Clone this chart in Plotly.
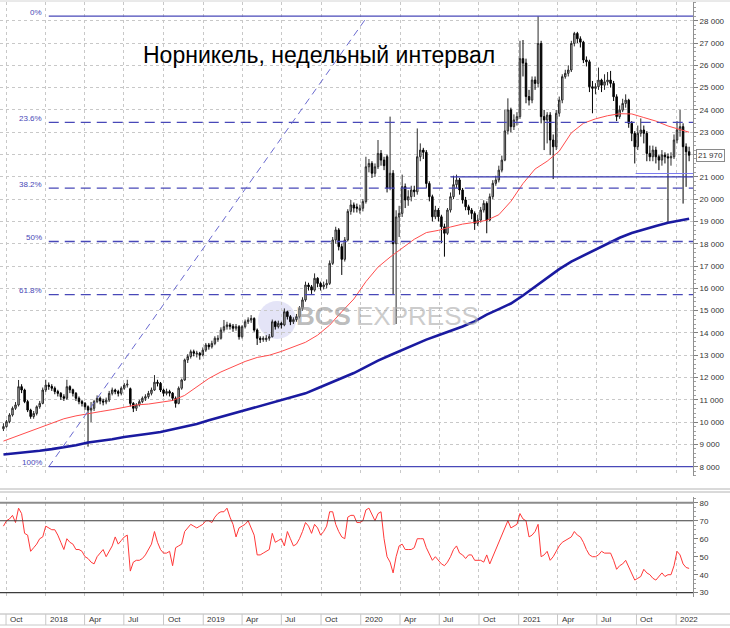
import pandas as pd
import plotly.graph_objects as go

# weekly candles, first week 2017-09-25
open_ = [
    9700, 9800, 10020, 10320, 10620, 10770, 11590, 11440, 10920, 10540,
    10250, 10390, 10690, 10840, 11440, 11660, 11600, 11520, 11370, 11290,
    11140, 11070, 11590, 11450, 11290, 11070, 10920, 10840, 10690, 10540,
    10620, 10920, 11070, 10950, 10900, 10990, 11290, 11440, 11370, 11290,
    11520, 11660, 11500, 10840, 10620, 10770, 10920, 11070, 11140, 11290,
    11440, 11790, 11740, 11440, 11290, 11370, 11300, 11070, 10840, 11520,
    11890, 12790, 12940, 13160, 13050, 13090, 13010, 13230, 13460, 13380,
    13530, 13700, 13760, 14130, 14280, 14360, 14300, 14210, 14280, 13830,
    14280, 14500, 14580, 14650, 14130, 13760, 13700, 13700, 13760, 13830,
    14500, 14280, 14430, 14360, 14950, 14730, 14500, 14600, 14730, 15100,
    15480, 16150, 16070, 15920, 16450, 16220, 16070, 16150, 16220, 17120,
    18170, 18620, 17870, 17300, 18170, 19450, 19740, 19650, 19500, 19590,
    19890, 21450, 21600, 21160, 21450, 22050, 21750, 21900, 20500, 21160,
    18000, 19200, 19360, 20560, 19960, 20110, 20410, 20330, 21900, 22200,
    22100, 20700, 20110, 19210, 19510, 19210, 18760, 18470, 19510, 20110,
    20650, 20860, 20410, 19960, 19660, 19510, 19360, 18910, 19060, 19510,
    19810, 19060, 20110, 20710, 20860, 21300, 21750, 23060, 24000, 23250,
    23550, 23700, 26300, 26100, 24600, 24440, 25340, 25190, 26980, 23700,
    23550, 23770, 22650, 22350, 23850, 24440, 25490, 25640, 25790, 26980,
    27430, 27190, 27040, 26240, 26160, 25040, 24970, 25040, 25340, 25110,
    25260, 25340, 25190, 24590, 23700, 23990, 24290, 24440, 23400, 22950,
    22350, 22950, 23100, 22950, 22050, 21900, 22200, 21900, 21750, 21980,
    21900, 21850, 21900, 22650, 23100, 23250, 22350, 22125,
]
high = [
    9950, 10100, 10400, 10700, 10900, 11890, 11700, 11500, 11000, 10600,
    10500, 10750, 10950, 11550, 11900, 11780, 11700, 11600, 11450, 11350,
    11250, 11900, 11650, 11500, 11350, 11150, 11000, 10900, 10750, 10900,
    11000, 11200, 11150, 11050, 11100, 11400, 11550, 11500, 11450, 11600,
    11750, 11900, 11550, 10900, 10850, 11000, 11150, 11250, 11400, 11550,
    12110, 11900, 11800, 11500, 11500, 11450, 11350, 11150, 11600, 11950,
    12850, 13050, 13250, 13250, 13200, 13150, 13350, 13550, 13550, 13650,
    13850, 13900, 14250, 14580, 14500, 14450, 14400, 14400, 14350, 14350,
    14600, 14700, 14800, 14700, 14200, 13850, 13850, 13900, 13950, 14600,
    14550, 14550, 14500, 15100, 15000, 14800, 14700, 14850, 15200, 15600,
    16300, 16250, 16150, 16670, 16500, 16300, 16300, 16400, 17250, 18300,
    18760, 18700, 18000, 18300, 19550, 19960, 19850, 19800, 19750, 20000,
    21900, 21800, 21700, 21600, 22650, 22200, 21900, 22000, 23700, 21300,
    19500, 19700, 21100, 20700, 20400, 20600, 20600, 23170, 22500, 22300,
    22200, 20800, 20200, 19700, 19600, 19300, 18900, 19600, 20300, 21050,
    21100, 20950, 20500, 20100, 19750, 19600, 19450, 19300, 19650, 19950,
    19900, 20250, 20850, 21050, 21500, 21950, 24000, 24520, 24100, 23800,
    23900, 27100, 27135, 26300, 24900, 25500, 25500, 28200, 27100, 24000,
    23900, 23900, 22900, 24000, 24600, 25600, 25800, 26000, 27100, 27500,
    27500, 27300, 27100, 26400, 26250, 25300, 25200, 25900, 25400, 25600,
    25700, 25750, 25300, 24700, 24200, 24500, 24700, 24500, 23500, 23050,
    23300, 23620, 23300, 23050, 22400, 22400, 22350, 22000, 22200, 22100,
    22050, 22100, 22900, 23500, 24000, 23400, 22500, 22350,
]
low = [
    9600, 9750, 9950, 10250, 10550, 10700, 11300, 10850, 10450, 10150,
    10150, 10300, 10600, 10800, 11350, 11450, 11400, 11250, 11150, 11000,
    10950, 11000, 11300, 11150, 10950, 10800, 10700, 10550, 8900, 10000,
    10500, 10850, 10800, 10750, 10800, 10900, 11200, 11250, 11150, 11200,
    11450, 11550, 10700, 10450, 10500, 10700, 10850, 10950, 11050, 11200,
    11400, 11600, 11350, 11150, 11200, 11150, 10950, 10650, 10800, 11450,
    11850, 12650, 12850, 12950, 12900, 12800, 12950, 13150, 13250, 13300,
    13450, 13600, 13700, 14050, 14150, 14150, 14050, 14100, 13700, 13750,
    14200, 14400, 14450, 14050, 13460, 13550, 13600, 13600, 13650, 13800,
    14150, 14200, 14200, 14300, 14600, 14350, 14400, 14500, 14650, 15000,
    15400, 15900, 15750, 15850, 16050, 15900, 15950, 16000, 16150, 17050,
    18000, 17700, 16600, 17200, 18100, 19300, 19400, 19400, 19350, 19450,
    19800, 21200, 20950, 21000, 21350, 21500, 21300, 20300, 20400, 15700,
    14400, 18300, 19200, 19600, 19700, 19900, 20100, 20200, 21700, 21800,
    20500, 19900, 19000, 19100, 19000, 18020, 17420, 18400, 19400, 20000,
    20500, 20200, 19800, 19500, 19300, 19100, 18620, 18800, 18950, 19400,
    18470, 19000, 20000, 20600, 20750, 21200, 21700, 22900, 23000, 23100,
    23300, 23600, 25500, 24300, 24200, 24300, 24900, 25000, 23400, 22200,
    22500, 21975, 20900, 22200, 23700, 24300, 25400, 25500, 25700, 26850,
    27000, 26800, 26100, 25950, 24800, 23850, 24700, 24900, 24800, 24900,
    25100, 25000, 24400, 23500, 23600, 23900, 24100, 23200, 22600, 21600,
    22200, 22800, 22500, 21700, 21700, 21700, 21600, 21300, 21500, 21600,
    18980, 21500, 21800, 22500, 22800, 19800, 20550, 21700,
]
close = [
    9800, 10020, 10320, 10620, 10770, 11590, 11440, 10920, 10540, 10250,
    10390, 10690, 10840, 11440, 11660, 11600, 11520, 11370, 11290, 11140,
    11070, 11590, 11450, 11290, 11070, 10920, 10840, 10690, 10540, 10620,
    10920, 11070, 10950, 10900, 10990, 11290, 11440, 11370, 11290, 11520,
    11660, 11700, 10840, 10620, 10770, 10920, 11070, 11140, 11290, 11440,
    11790, 11740, 11440, 11290, 11370, 11300, 11070, 10840, 11520, 11890,
    12790, 12940, 13160, 13090, 13090, 13010, 13230, 13460, 13380, 13530,
    13760, 13760, 14130, 14280, 14360, 14300, 14210, 14280, 13830, 14280,
    14500, 14580, 14650, 14130, 13760, 13700, 13760, 13760, 13830, 14500,
    14280, 14430, 14360, 14950, 14730, 14500, 14600, 14730, 15100, 15480,
    16150, 16070, 15920, 16450, 16220, 16070, 16150, 16220, 17120, 18170,
    18620, 17870, 17300, 18170, 19450, 19740, 19600, 19590, 19590, 19890,
    21450, 21600, 21160, 21450, 22050, 21750, 21500, 20500, 21160, 18000,
    19200, 19360, 20560, 19960, 20110, 20410, 20330, 21900, 22200, 22100,
    20700, 20110, 19210, 19510, 19210, 18760, 18470, 19510, 20110, 20650,
    20860, 20410, 19960, 19660, 19510, 19360, 18910, 19060, 19510, 19810,
    19060, 20110, 20710, 20860, 21300, 21750, 23060, 24000, 23250, 23550,
    23700, 26300, 26100, 24600, 24440, 25340, 25190, 26980, 23700, 23550,
    23770, 22650, 22350, 23850, 24440, 25490, 25640, 25790, 26980, 27430,
    27190, 27040, 26240, 26160, 25040, 24970, 25040, 25340, 25110, 25260,
    25340, 25190, 24590, 23700, 23990, 24290, 24440, 23400, 22950, 22350,
    22950, 23100, 22950, 22050, 21900, 22200, 21900, 21750, 21980, 21900,
    21850, 21900, 22650, 23100, 23250, 22350, 22125, 21970,
]
rsi = [
    67, 70, 71, 73, 69, 77, 74, 63, 62, 53,
    55, 57, 60, 61, 67, 66, 65, 65, 62, 58,
    54, 60, 58, 57, 54, 54, 53, 50, 49, 47,
    46, 50, 52, 54, 50, 53, 56, 61, 57, 59,
    61, 62, 42, 47, 48, 48, 49, 51, 54, 57,
    64, 58, 54, 52, 52, 53, 45, 55, 56, 57,
    64, 66, 68, 67, 66, 67, 68, 70, 70, 69,
    72, 74, 75, 75, 77, 72, 68, 61, 66, 67,
    68, 70, 66, 62, 51, 51, 52, 53, 54, 63,
    58, 59, 60, 56, 64, 60, 56, 57, 60, 64,
    69, 67, 63, 68, 66, 62, 64, 67, 75, 75,
    68, 64, 61, 60, 72, 73, 73, 69, 69, 70,
    76, 77, 73, 70, 74, 75, 60, 50, 47, 41,
    50, 56, 57, 54, 54, 54, 55, 60, 60, 60,
    55, 51, 48, 50, 48, 46, 45, 47, 50, 54,
    56, 52, 51, 49, 51, 51, 48, 48, 48, 47,
    51, 46, 50, 55, 59, 62, 66, 70, 66, 67,
    68, 74, 71, 70, 61, 62, 64, 68, 50, 51,
    53, 48, 50, 53, 56, 58, 59, 60, 61, 64,
    62, 61, 58, 54, 51, 50, 50, 51, 53, 52,
    52, 52, 48, 43, 45, 46, 48, 44, 41, 37,
    38, 39, 43, 41, 40, 38, 37, 39, 41, 39,
    40, 40, 45, 53, 51, 46, 44, 43.5,
]
# moving averages read every 4th week (plus the last week)
ma_fast = [
    9150, 9350, 9560, 9750, 9950, 10150, 10280, 10390, 10470, 10560,
    10650, 10770, 10810, 10880, 10970, 11200, 11600, 11960, 12250, 12480,
    12720, 12900, 13000, 13170, 13380, 13580, 13900, 14350, 14950, 15520,
    16300, 16950, 17400, 17800, 18200, 18500, 18600, 18750, 18880, 18960,
    19050, 19300, 19900, 20700, 21350, 21700, 22150, 22970, 23400, 23600,
    23740, 23830, 23820, 23660, 23500, 23280, 23130, 23000,
]
ma_slow = [
    8550, 8600, 8660, 8720, 8790, 8870, 8960, 9090, 9150, 9230,
    9330, 9420, 9480, 9560, 9670, 9800, 9920, 10080, 10230, 10380,
    10550, 10710, 10860, 10990, 11130, 11290, 11520, 11750, 11970, 12200,
    12480, 12760, 13000, 13240, 13490, 13700, 13900, 14080, 14290, 14520,
    14820, 15070, 15320, 15680, 16080, 16480, 16860, 17200, 17470, 17710,
    18000, 18270, 18480, 18650, 18800, 18940, 19060, 19120,
]

fib_labels = ["0%", "23.6%", "38.2%", "50%", "61.8%", "100%"]
fib_prices = [28210, 23440, 20490, 18100, 15720, 8000]
fib_start = "2018-01-08"
fib_trend_end = "2020-01-17"
level_21000 = 21000
level_21000_start = "2020-07-27"
level_support = 21150
level_support_start = "2021-09-29"

price_ticks = list(range(8000, 29000, 1000))
rsi_ticks = [30, 40, 50, 60, 70, 80]
tick_dates = ["2017-10-01", "2018-01-01", "2018-04-01", "2018-07-01", "2018-10-01",
              "2019-01-01", "2019-04-01", "2019-07-01", "2019-10-01", "2020-01-01",
              "2020-04-01", "2020-07-01", "2020-10-01", "2021-01-01", "2021-04-01",
              "2021-07-01", "2021-10-01", "2022-01-01"]
tick_text = ["Oct", "2018", "Apr", "Jul", "Oct", "2019", "Apr", "Jul", "Oct", "2020",
             "Apr", "Jul", "Oct", "2021", "Apr", "Jul", "Oct", "2022"]

assert len(open_) == len(high) == len(low) == len(close) == len(rsi) == 228

dates = pd.date_range("2017-09-25", periods=len(close), freq="7D")
ma_idx = list(range(0, len(close), 4)) + [len(close) - 1]
ma_dates = dates[ma_idx]
x_range = ["2017-09-17", "2022-02-09"]

W, H = 730, 628
PLOT_W = 693


def py(pix):
    # pixel row -> paper fraction (margins t=b=0)
    return (H - pix) / H


def fmt(v):
    return f"{v:,}".replace(",", " ")


last_label = fmt(close[-1])
# the last-price box sits on top of the 22 000 label, so that label is left blank
price_ticktext = ["" if abs(v - close[-1]) < 300 else fmt(v) for v in price_ticks]

FIB_BLUE = "#4848b8"
GRID = "#c8c8c8"
FONT = "Liberation Sans, Arial, sans-serif"

fig = go.Figure()
fig.add_trace(go.Candlestick(
    x=dates, open=open_, high=high, low=low, close=close,
    increasing=dict(line=dict(color="#2a2a2a", width=1), fillcolor="#c4c4c4"),
    decreasing=dict(line=dict(color="#000000", width=1), fillcolor="#000000"),
    xaxis="x", yaxis="y", showlegend=False, hoverinfo="skip",
))
fig.add_trace(go.Scatter(x=ma_dates, y=ma_fast, mode="lines",
                         line=dict(color="#ff4d4d", width=1),
                         xaxis="x", yaxis="y", showlegend=False))
fig.add_trace(go.Scatter(x=ma_dates, y=ma_slow, mode="lines",
                         line=dict(color="#1a1aa0", width=2.6),
                         xaxis="x", yaxis="y", showlegend=False))
fig.add_trace(go.Scatter(x=dates, y=rsi, mode="lines",
                         line=dict(color="#ff3838", width=1),
                         xaxis="x2", yaxis="y2", showlegend=False))

shapes = []
annotations = []

# fibonacci levels
for lab, price in zip(fib_labels, fib_prices):
    solid = lab in ("0%", "100%")
    shapes.append(dict(type="line", xref="x", yref="y", x0=fib_start, x1=x_range[1],
                       y0=price, y1=price,
                       line=dict(color=FIB_BLUE, width=1.2 if solid else 1.3,
                                 dash="solid" if solid else "10px,6px")))
    annotations.append(dict(xref="x", yref="y", x=fib_start, y=price, text=lab,
                            showarrow=False, xanchor="right", yanchor="middle",
                            xshift=-5, yshift=4,
                            font=dict(size=8, color=FIB_BLUE, family=FONT)))
shapes.append(dict(type="line", xref="x", yref="y", x0=fib_start, y0=fib_prices[-1],
                   x1=fib_trend_end, y1=fib_prices[0],
                   line=dict(color="#6a6ad0", width=1, dash="7px,5px")))
shapes.append(dict(type="line", xref="x", yref="y", x0=level_21000_start, x1=x_range[1],
                   y0=level_21000, y1=level_21000, line=dict(color="#3535b0", width=1.2)))
shapes.append(dict(type="line", xref="x", yref="y", x0=level_support_start, x1=x_range[1],
                   y0=level_support, y1=level_support, line=dict(color="#7c7cf0", width=1.2)))

# RSI reference lines
for lvl, col, wd in [(80, "#8c8c8c", 2), (70, "#3c3c3c", 1.2), (30, "#3c3c3c", 1.2)]:
    shapes.append(dict(type="line", xref="x2 domain", yref="y2", x0=0, x1=1,
                       y0=lvl, y1=lvl, line=dict(color=col, width=wd)))

# frame lines: top, panel separator, label strip
for pix, col in [(1, "#d4d4d4"), (489, "#b4b4b4"), (492, "#b4b4b4"),
                 (614, "#b4b4b4"), (625, "#c8c8c8")]:
    shapes.append(dict(type="line", xref="paper", yref="paper", x0=0, x1=W / PLOT_W,
                       y0=py(pix), y1=py(pix), line=dict(color=col, width=1)))

# watermark sphere
shapes.append(dict(type="circle", xref="paper", yref="paper", layer="below",
                   x0=258 / PLOT_W, x1=296 / PLOT_W, y0=py(339), y1=py(301),
                   fillcolor="rgba(206,206,240,0.55)", line=dict(width=0)))

# x tick labels in the bottom strip
for d, t in zip(tick_dates, tick_text):
    shapes.append(dict(type="line", xref="x2", yref="paper", x0=d, x1=d,
                       y0=py(625), y1=py(614), line=dict(color="#c8c8c8", width=1)))
    annotations.append(dict(xref="x2", yref="paper", x=d, y=py(619.5), text=t,
                            showarrow=False, xanchor="left", yanchor="middle", xshift=2,
                            font=dict(size=8, color="#333333", family=FONT)))

# title and watermark text
annotations.append(dict(xref="paper", yref="paper", x=319 / PLOT_W, y=py(55),
                        text="Норникель, недельный интервал", showarrow=False,
                        xanchor="center", yanchor="middle",
                        font=dict(size=23, color="#000000", family=FONT)))
annotations.append(dict(xref="paper", yref="paper", x=323 / PLOT_W, y=py(316),
                        text="<b>BCS</b>", showarrow=False,
                        xanchor="center", yanchor="middle",
                        font=dict(size=26, color="rgba(150,150,150,0.65)", family=FONT)))
annotations.append(dict(xref="paper", yref="paper", x=417 / PLOT_W, y=py(316),
                        text="EXPRESS", showarrow=False,
                        xanchor="center", yanchor="middle",
                        font=dict(size=26, color="rgba(170,170,170,0.6)", family=FONT)))

# last price marker on the price axis
annotations.append(dict(xref="paper", yref="y", x=1, y=close[-1],
                        text=last_label, showarrow=False,
                        xanchor="left", yanchor="middle", xshift=3,
                        bgcolor="white", bordercolor="#8a8a8a", borderwidth=1, borderpad=1,
                        font=dict(size=8, color="#333333", family=FONT)))

x_common = dict(type="date", range=x_range, showticklabels=False, showgrid=True,
                gridcolor=GRID, griddash="dot", dtick="M3", tick0="2017-10-01",
                ticks="", zeroline=False, showline=False)

fig.update_layout(
    width=W, height=H,
    margin=dict(l=0, r=W - PLOT_W, t=0, b=0, autoexpand=False),
    plot_bgcolor="white", paper_bgcolor="white",
    font=dict(family=FONT, size=8, color="#333333"),
    hovermode=False,
    xaxis=dict(**x_common, domain=[0, 1], anchor="y", rangeslider=dict(visible=False)),
    xaxis2=dict(**x_common, domain=[0, 1], anchor="y2", matches="x"),
    yaxis=dict(domain=[py(476), py(2)], side="right", range=[7584, 28840],
               tickvals=price_ticks, ticktext=price_ticktext,
               ticks="outside", ticklen=4,
               tickcolor="#808080", showline=True, linecolor="#909090",
               showgrid=True, gridcolor=GRID, griddash="dot", zeroline=False,
               minor=dict(dtick=200, ticks="outside", ticklen=2, tickcolor="#a0a0a0",
                          showgrid=False),
               tickfont=dict(size=8, color="#333333")),
    yaxis2=dict(domain=[py(597), py(497)], side="right", range=[27.6, 83.2],
                tickvals=rsi_ticks, ticks="outside", ticklen=4,
                tickcolor="#808080", showline=True, linecolor="#909090",
                showgrid=False, zeroline=False,
                minor=dict(dtick=2.5, ticks="outside", ticklen=2, tickcolor="#a0a0a0",
                           showgrid=False),
                tickfont=dict(size=8, color="#333333")),
    shapes=shapes,
    annotations=annotations,
)

# the page's default body margin would push the figure off the window
fig.write_html("out.html", config={"displayModeBar": False},
               post_script="document.body.style.margin = '0';")
